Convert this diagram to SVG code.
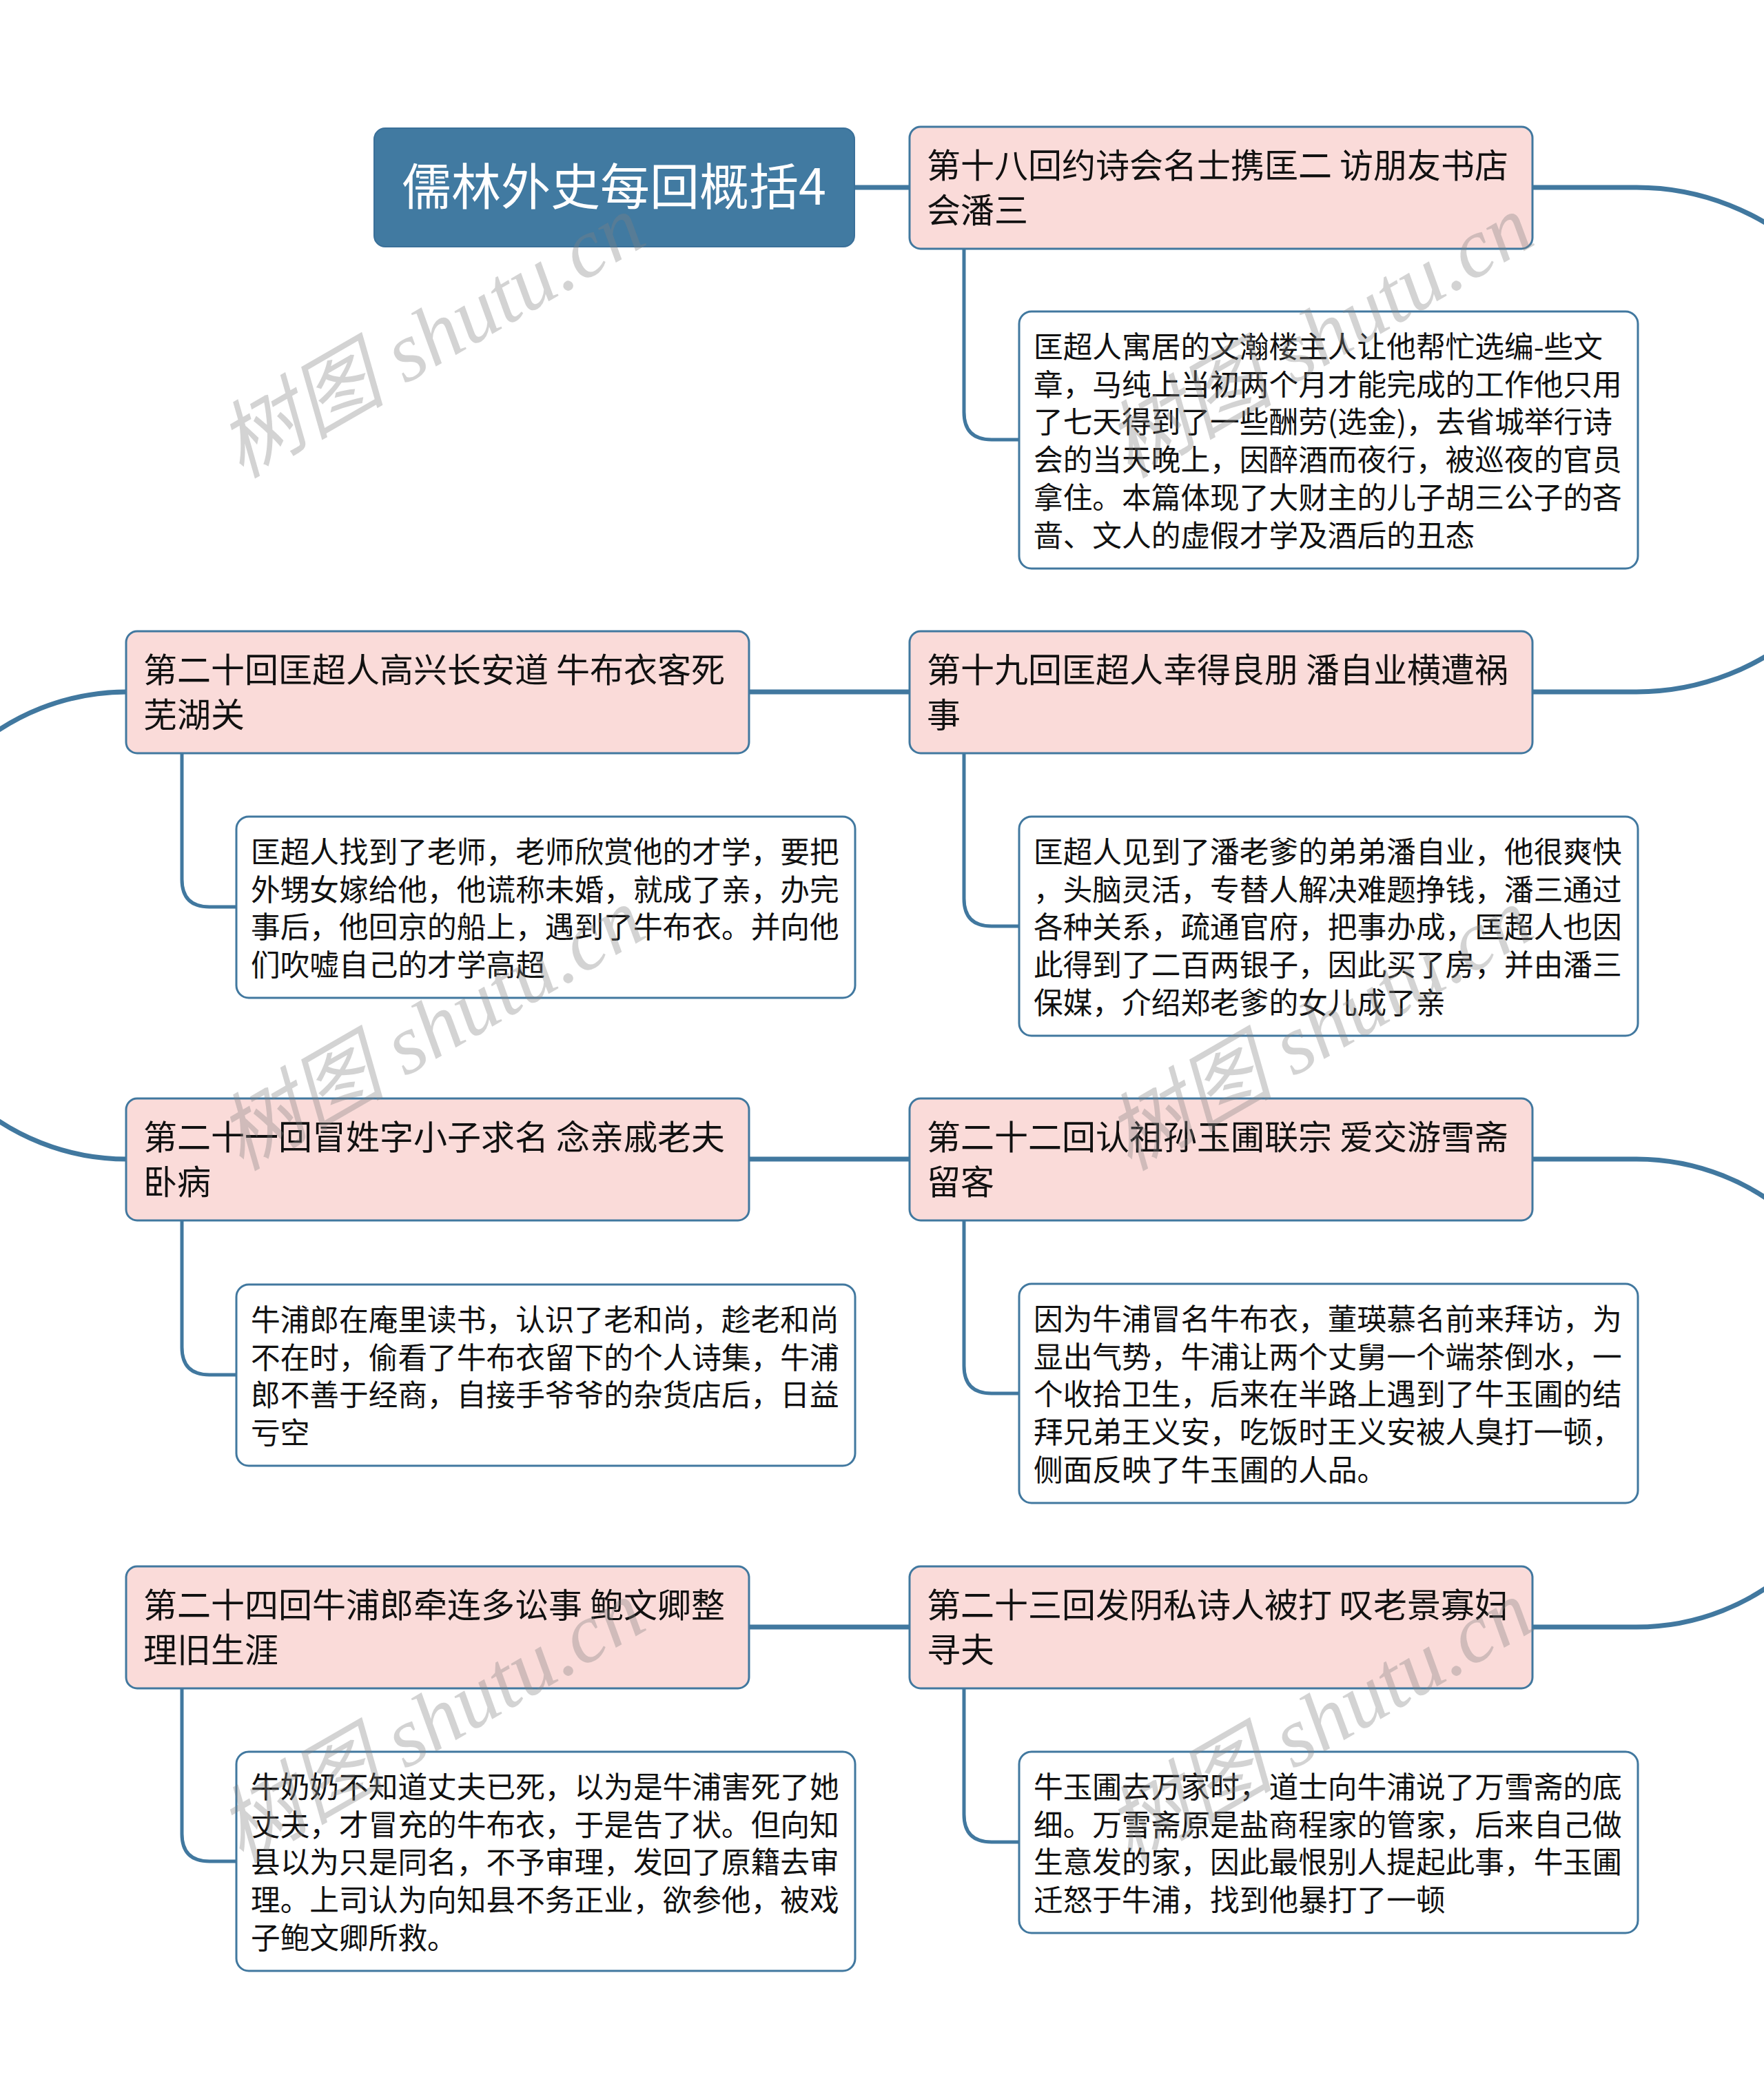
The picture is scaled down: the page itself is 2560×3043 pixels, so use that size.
<svg xmlns="http://www.w3.org/2000/svg" width="2560" height="3043" viewBox="0 0 2560 3043">
<style>
.main{fill:none;stroke:#41789f;stroke-width:7}
.sub{fill:none;stroke:#41789f;stroke-width:5}
.root{fill:#417aa1;stroke:#3a7099;stroke-width:2}
.ch{fill:#fadbd9;stroke:#41789f;stroke-width:3}
.dt{fill:#ffffff;stroke:#41789f;stroke-width:3}
.rt{font-family:"Noto Sans CJK SC","Noto Sans",sans-serif;font-size:72px;fill:#ffffff}
.ct{font-family:"Noto Sans CJK SC","Noto Sans",sans-serif;font-size:49px;fill:#111111}
.dx{font-family:"Noto Sans CJK SC","Noto Sans",sans-serif;font-size:42.7px;fill:#111111}
.wm{font-family:"Liberation Serif","Noto Sans CJK SC",serif;font-style:italic;font-size:122px;fill:#808080;fill-opacity:0.35}
</style>
<rect width="2560" height="3043" fill="#ffffff"/>
<g id="connectors">
<path class="main" d="M1240,272 H1320"/>
<path class="main" d="M2224,272 H2375 A366,366 0 0 1 2375,1004 H2224"/>
<path class="main" d="M1087,1004 H1320"/>
<path class="main" d="M184,1004 A339,339 0 0 0 184,1682"/>
<path class="main" d="M1087,1682 H1320"/>
<path class="main" d="M2224,1682 H2375 A339.5,339.5 0 0 1 2375,2361 H2224"/>
<path class="main" d="M1087,2361 H1320"/>
<path class="sub" d="M1399,361 V598 Q1399,638 1439,638 H1479"/>
<path class="sub" d="M1399,1093 V1304 Q1399,1344 1439,1344 H1479"/>
<path class="sub" d="M264,1093 V1276 Q264,1316 304,1316 H343"/>
<path class="sub" d="M264,1771 V1955 Q264,1995 304,1995 H343"/>
<path class="sub" d="M1399,1771 V1982 Q1399,2022 1439,2022 H1479"/>
<path class="sub" d="M1399,2450 V2633 Q1399,2673 1439,2673 H1479"/>
<path class="sub" d="M264,2450 V2661 Q264,2701 304,2701 H343"/>
</g>
<g id="root">
<rect class="root" x="543" y="186" width="697" height="172" rx="16"/>
<text class="rt" x="891" y="297" text-anchor="middle">儒林外史每回概括4</text>
</g>
<g id="ch18">
<rect class="ch" x="1320" y="184" width="904" height="177" rx="16"/>
<text class="ct" x="1345" y="258">第十八回约诗会名士携匡二 访朋友书店</text>
<text class="ct" x="1345" y="323">会潘三</text>
</g>
<g id="d18">
<rect class="dt" x="1479" y="452" width="898" height="373" rx="18"/>
<text class="dx" x="1500" y="519">匡超人寓居的文瀚楼主人让他帮忙选编-些文</text>
<text class="dx" x="1500" y="573.7">章，马纯上当初两个月才能完成的工作他只用</text>
<text class="dx" x="1500" y="628.4">了七天得到了一些酬劳(选金)，去省城举行诗</text>
<text class="dx" x="1500" y="683.1">会的当天晚上，因醉酒而夜行，被巡夜的官员</text>
<text class="dx" x="1500" y="737.8">拿住。本篇体现了大财主的儿子胡三公子的吝</text>
<text class="dx" x="1500" y="792.5">啬、文人的虚假才学及酒后的丑态</text>
</g>
<g id="ch19">
<rect class="ch" x="1320" y="916" width="904" height="177" rx="16"/>
<text class="ct" x="1345" y="990">第十九回匡超人幸得良朋 潘自业横遭祸</text>
<text class="ct" x="1345" y="1055">事</text>
</g>
<g id="d19">
<rect class="dt" x="1479" y="1185" width="898" height="318" rx="18"/>
<text class="dx" x="1500" y="1252">匡超人见到了潘老爹的弟弟潘自业，他很爽快</text>
<text class="dx" x="1500" y="1306.7">，头脑灵活，专替人解决难题挣钱，潘三通过</text>
<text class="dx" x="1500" y="1361.4">各种关系，疏通官府，把事办成，匡超人也因</text>
<text class="dx" x="1500" y="1416.1">此得到了二百两银子，因此买了房，并由潘三</text>
<text class="dx" x="1500" y="1470.8">保媒，介绍郑老爹的女儿成了亲</text>
</g>
<g id="ch20">
<rect class="ch" x="183" y="916" width="904" height="177" rx="16"/>
<text class="ct" x="208" y="990">第二十回匡超人高兴长安道 牛布衣客死</text>
<text class="ct" x="208" y="1055">芜湖关</text>
</g>
<g id="d20">
<rect class="dt" x="343" y="1185" width="898" height="263" rx="18"/>
<text class="dx" x="364" y="1252">匡超人找到了老师，老师欣赏他的才学，要把</text>
<text class="dx" x="364" y="1306.7">外甥女嫁给他，他谎称未婚，就成了亲，办完</text>
<text class="dx" x="364" y="1361.4">事后，他回京的船上，遇到了牛布衣。并向他</text>
<text class="dx" x="364" y="1416.1">们吹嘘自己的才学高超</text>
</g>
<g id="ch21">
<rect class="ch" x="183" y="1594" width="904" height="177" rx="16"/>
<text class="ct" x="208" y="1668">第二十一回冒姓字小子求名 念亲戚老夫</text>
<text class="ct" x="208" y="1733">卧病</text>
</g>
<g id="d21">
<rect class="dt" x="343" y="1864" width="898" height="263" rx="18"/>
<text class="dx" x="364" y="1931">牛浦郎在庵里读书，认识了老和尚，趁老和尚</text>
<text class="dx" x="364" y="1985.7">不在时，偷看了牛布衣留下的个人诗集，牛浦</text>
<text class="dx" x="364" y="2040.4">郎不善于经商，自接手爷爷的杂货店后，日益</text>
<text class="dx" x="364" y="2095.1">亏空</text>
</g>
<g id="ch22">
<rect class="ch" x="1320" y="1594" width="904" height="177" rx="16"/>
<text class="ct" x="1345" y="1668">第二十二回认祖孙玉圃联宗 爱交游雪斋</text>
<text class="ct" x="1345" y="1733">留客</text>
</g>
<g id="d22">
<rect class="dt" x="1479" y="1863" width="898" height="318" rx="18"/>
<text class="dx" x="1500" y="1930">因为牛浦冒名牛布衣，董瑛慕名前来拜访，为</text>
<text class="dx" x="1500" y="1984.7">显出气势，牛浦让两个丈舅一个端茶倒水，一</text>
<text class="dx" x="1500" y="2039.4">个收拾卫生，后来在半路上遇到了牛玉圃的结</text>
<text class="dx" x="1500" y="2094.1">拜兄弟王义安，吃饭时王义安被人臭打一顿，</text>
<text class="dx" x="1500" y="2148.8">侧面反映了牛玉圃的人品。</text>
</g>
<g id="ch23">
<rect class="ch" x="1320" y="2273" width="904" height="177" rx="16"/>
<text class="ct" x="1345" y="2347">第二十三回发阴私诗人被打 叹老景寡妇</text>
<text class="ct" x="1345" y="2412">寻夫</text>
</g>
<g id="d23">
<rect class="dt" x="1479" y="2542" width="898" height="263" rx="18"/>
<text class="dx" x="1500" y="2609">牛玉圃去万家时，道士向牛浦说了万雪斋的底</text>
<text class="dx" x="1500" y="2663.7">细。万雪斋原是盐商程家的管家，后来自己做</text>
<text class="dx" x="1500" y="2718.4">生意发的家，因此最恨别人提起此事，牛玉圃</text>
<text class="dx" x="1500" y="2773.1">迁怒于牛浦，找到他暴打了一顿</text>
</g>
<g id="ch24">
<rect class="ch" x="183" y="2273" width="904" height="177" rx="16"/>
<text class="ct" x="208" y="2347">第二十四回牛浦郎牵连多讼事 鲍文卿整</text>
<text class="ct" x="208" y="2412">理旧生涯</text>
</g>
<g id="d24">
<rect class="dt" x="343" y="2542" width="898" height="318" rx="18"/>
<text class="dx" x="364" y="2609">牛奶奶不知道丈夫已死，以为是牛浦害死了她</text>
<text class="dx" x="364" y="2663.7">丈夫，才冒充的牛布衣，于是告了状。但向知</text>
<text class="dx" x="364" y="2718.4">县以为只是同名，不予审理，发回了原籍去审</text>
<text class="dx" x="364" y="2773.1">理。上司认为向知县不务正业，欲参他，被戏</text>
<text class="dx" x="364" y="2827.8">子鲍文卿所救。</text>
</g>
<g id="watermarks">
<text class="wm" transform="translate(350,695) rotate(-30)">树图 shutu.cn</text>
<text class="wm" transform="translate(1639,695) rotate(-30)">树图 shutu.cn</text>
<text class="wm" transform="translate(350,1700) rotate(-30)">树图 shutu.cn</text>
<text class="wm" transform="translate(1639,1700) rotate(-30)">树图 shutu.cn</text>
<text class="wm" transform="translate(350,2705) rotate(-30)">树图 shutu.cn</text>
<text class="wm" transform="translate(1639,2705) rotate(-30)">树图 shutu.cn</text>
</g>
</svg>
